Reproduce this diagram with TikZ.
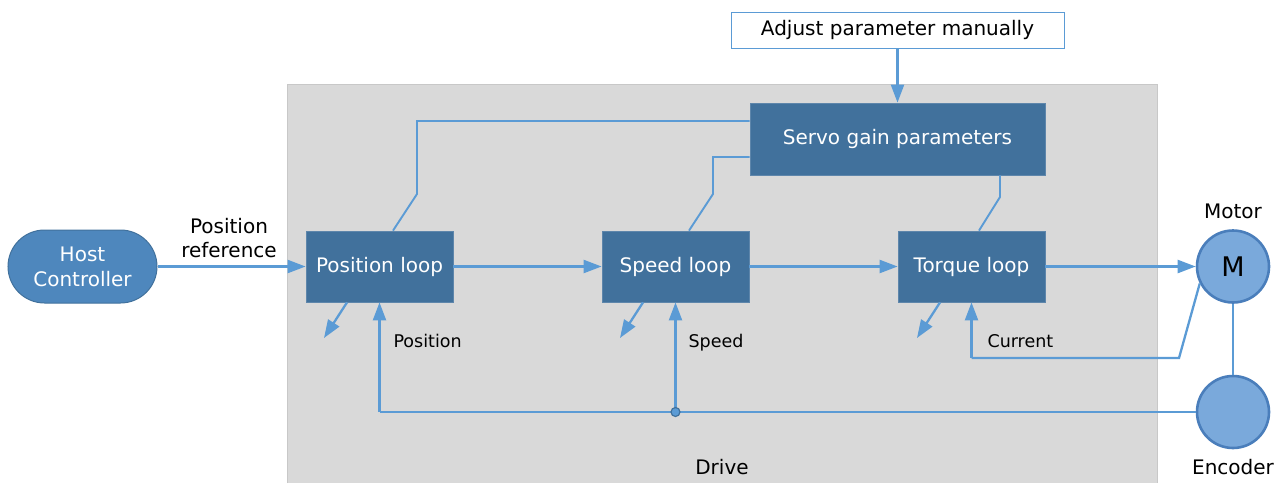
\documentclass[tikz,border=0pt]{standalone}
\usepackage{fontspec}
\setmainfont{DejaVu Sans}
\usetikzlibrary{arrows.meta,shapes.misc,calc}
\definecolor{drivegray}{HTML}{D9D9D9}
\definecolor{driveedge}{HTML}{C8C8C8}
\definecolor{boxblue}{HTML}{41719C}
\definecolor{hostblue}{HTML}{4E87BD}
\definecolor{linecol}{HTML}{5B9BD5}
\definecolor{circfill}{HTML}{7AA9DB}
\definecolor{circedge}{HTML}{4A7EBB}
\tikzset{
  bigtxt/.style={font=\fontsize{20}{24}\selectfont},
  smalltxt/.style={font=\fontsize{17.5}{21}\selectfont},
  loopbox/.style={rectangle, fill=boxblue, draw=boxblue!85!white, line width=0.8pt, text=white, bigtxt, inner sep=0pt, minimum width=147pt, minimum height=71pt},
  conn/.style={draw=linecol, line width=2.3pt},
  arr/.style={conn, -{Triangle[length=18pt,width=13pt]}},
  thin/.style={draw=linecol, line width=1.9pt},
  circ/.style={circle, fill=circfill, draw=circedge, line width=2.6pt, minimum size=72pt, inner sep=0pt},
}
\begin{document}
\begin{tikzpicture}[x=1pt,y=-1pt]
\useasboundingbox (0,0) rectangle (1285,483);
% drive area
\fill[drivegray] (287,84) rectangle (1157,483);
\draw[driveedge, line width=1pt] (287,483) -- (287,84) -- (1157,84) -- (1157,483);
\node[bigtxt] (drive) at (722,467) {Drive};
% nodes
\node[rectangle, draw=linecol, line width=1pt, fill=white, bigtxt, inner sep=0pt, minimum width=333pt, minimum height=36pt] (adj) at (897.5,30) {Adjust parameter manually};
\node[loopbox, minimum width=295pt, minimum height=72pt] (servo) at (897.5,139) {Servo gain parameters};
\node[loopbox] (pos) at (379.5,266.5) {Position loop};
\node[loopbox] (spd) at (675.5,266.5) {Speed loop};
\node[loopbox] (trq) at (971.5,266.5) {Torque loop};
\node[rounded rectangle, fill=hostblue, draw=boxblue, line width=1pt, text=white, bigtxt, inner sep=0pt, minimum width=149pt, minimum height=73pt, align=center, text width=130pt] (host) at (82.5,266.5) {Host\\[1pt]Controller};
\node[circ, font=\fontsize{27}{30}\selectfont] (motor) at (1233,266.5) {M};
\node[circ] (enc) at (1233,412) {};
\node[bigtxt] (motorlbl) at (1233,211) {Motor};
\node[bigtxt] (enclbl) at (1233,467) {Encoder};
\node[bigtxt, align=center] (posref) at (229,238.5) {Position\\[0pt]reference};
\node[smalltxt, anchor=base west] (lpos) at (390,347) {Position};
\node[smalltxt, anchor=base west] (lspd) at (685,347) {Speed};
\node[smalltxt, anchor=base west] (lcur) at (984,347) {Current};
% main chain
\draw[arr] (adj.south) -- (servo.north);
\draw[arr] (host.east) -- (pos.west);
\draw[arr] (pos.east) -- (spd.west);
\draw[arr] (spd.east) -- (trq.west);
\draw[arr] (trq.east) -- (motor.west);
% servo gain links
\draw[thin] ([yshift=18pt]servo.west) -- (417,121) -- (417,194) -- ([xshift=13.5pt]pos.north);
\draw[thin] ([yshift=-18pt]servo.west) -- (713,157) -- (713,194) -- ([xshift=13.5pt]spd.north);
\draw[thin] ([xshift=102.5pt]servo.south) -- (1000,197) -- ([xshift=7.5pt]trq.north);
% small outputs
\coordinate (po) at (324,338);
\coordinate (so) at (620,338);
\coordinate (to) at (917,338);
\draw[arr] ([xshift=-32.5pt]pos.south) -- (po);
\draw[arr] ([xshift=-32.5pt]spd.south) -- (so);
\draw[arr] ([xshift=-31.5pt]trq.south) -- (to);
% feedback
\coordinate (j) at (spd.south |- enc.west);
\draw[conn] (enc.west) -- (pos.south |- enc.west);
\draw[arr] (pos.south |- enc.west) -- (pos.south);
\draw[arr] (j) -- (spd.south);
\fill[linecol] (j) circle (4.5pt);
\draw[draw=boxblue, line width=1.2pt] (j) circle (4.5pt);
\coordinate (cb) at (1179,358);
\draw[conn] (motor.207) -- (cb) -- (trq.south |- cb);
\draw[arr] (trq.south |- cb) -- (trq.south);
\draw[conn] (motor.south) -- (enc.north);
\end{tikzpicture}
\end{document}
